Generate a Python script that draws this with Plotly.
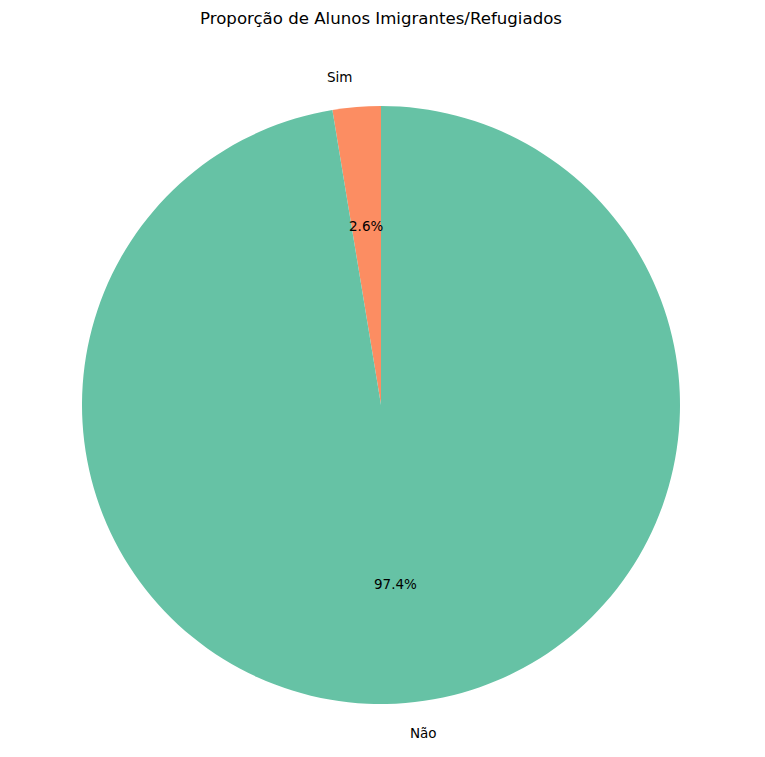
import math
import plotly.graph_objects as go

labels = ["Sim", "Não"]
values = [2.6, 97.4]
colors = ["#fc8d62", "#66c2a5"]
title = "Proporção de Alunos Imigrantes/Refugiados"

W, H = 765, 757
ml, mr, mt, mb = 74, 93, 98, 61

total = sum(values)

# plotly counterclockwise: first slice ends at `rotation`; shift so it starts at 12 o'clock
fig = go.Figure(go.Pie(
    labels=labels, values=values, sort=False, direction="counterclockwise",
    rotation=-values[0] / total * 360.0,
    marker=dict(colors=colors, line=dict(width=0)),
    textinfo="none", hoverinfo="label+percent", showlegend=False,
    domain=dict(x=[0, 1], y=[0, 1]),
))

start = 90.0
annotations = []
for lab, v in zip(labels, values):
    frac = v / total
    mid = math.radians(start + frac * 180.0)
    start += frac * 360.0
    c, s = math.cos(mid), math.sin(mid)
    annotations.append(dict(
        x=0.5 + 0.5 * 1.1 * c, y=0.5 + 0.5 * 1.1 * s, xref="paper", yref="paper",
        text=lab, showarrow=False, xanchor="right" if c < 0 else "left",
        yanchor="middle", font=dict(size=13.5, color="black")))
    annotations.append(dict(
        x=0.5 + 0.5 * 0.6 * c, y=0.5 + 0.5 * 0.6 * s, xref="paper", yref="paper",
        text=f"{frac*100:.1f}%", showarrow=False, xanchor="center",
        yanchor="middle", font=dict(size=13.5, color="black")))

fig.update_layout(
    width=W, height=H, margin=dict(l=ml, r=mr, t=mt, b=mb),
    paper_bgcolor="white", plot_bgcolor="white",
    font=dict(family="DejaVu Sans", color="black"),
    title=dict(text=title, x=(381 - 8) / W, xanchor="center", y=1 - 10 / H, yanchor="middle",
               yref="container", font=dict(size=16.6, color="black")),
    annotations=annotations,
)
fig.write_html("out.html")
